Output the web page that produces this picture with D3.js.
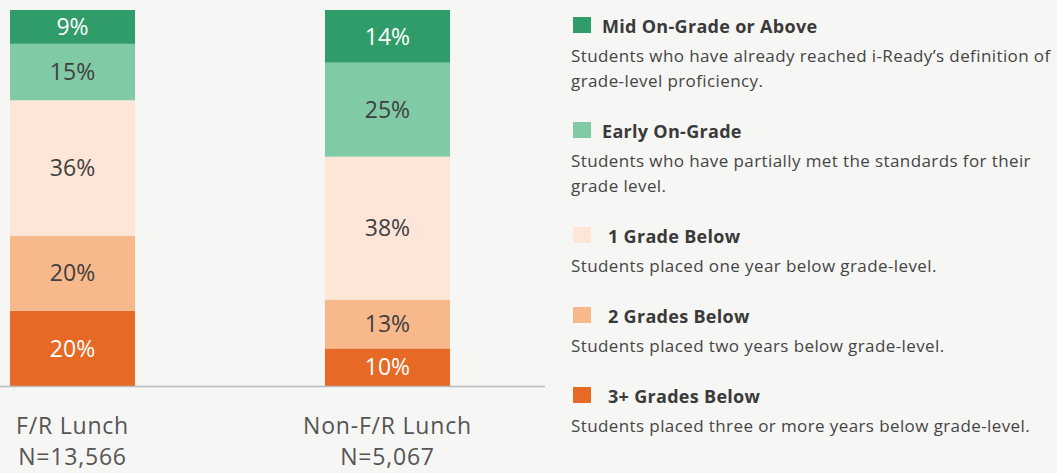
<!DOCTYPE html>
<html>
<head>
<meta charset="utf-8">
<script src="https://cdn.jsdelivr.net/npm/d3@7"></script>
<style>
  html, body { margin: 0; padding: 0; background: #f6f6f4; }
  svg { display: block; font-family: "Open Sans", sans-serif; }
</style>
</head>
<body>
<div id="chart"></div>
<script>
// categories (bars) and their N labels
const groups = ["F/R Lunch", "Non-F/R Lunch"];
const groupN = ["N=13,566", "N=5,067"];

// levels, bottom of the stack first
const levels = ["3+ Grades Below", "2 Grades Below", "1 Grade Below", "Early On-Grade", "Mid On-Grade or Above"];
const levelColors = ["#e66a26", "#f7b98b", "#fde6d8", "#80cba5", "#2f9c69"];
const labelColors = ["#ffffff", "#404040", "#404040", "#404040", "#ffffff"];

// percentages per group, same order as levels
const frLunch = [20, 20, 36, 15, 9];
const nonFrLunch = [10, 13, 38, 25, 14];

// legend texts, top entry first
const legendTitles = ["Mid On-Grade or Above", "Early On-Grade", "1 Grade Below", "2 Grades Below", "3+ Grades Below"];
const legendDescs = [
  ["Students who have already reached i-Ready\u2019s definition of", "grade-level proficiency."],
  ["Students who have partially met the standards for their", "grade level."],
  ["Students placed one year below grade-level."],
  ["Students placed two years below grade-level."],
  ["Students placed three or more years below grade-level."]
];

const width = 1057, height = 473;

const svg = d3.select("#chart")
  .append("svg")
  .attr("width", width)
  .attr("height", height);

// build table for the stack
const table = groups.map((g, i) => {
  const vals = i === 0 ? frLunch : nonFrLunch;
  const row = { group: g };
  levels.forEach((l, j) => row[l] = vals[j]);
  return row;
});

const stack = d3.stack().keys(levels);
const series = stack(table);

const x = d3.scaleBand()
  .domain(groups)
  .range([10, 450])
  .paddingInner(0.603)
  .paddingOuter(0);

const y = d3.scaleLinear()
  .domain([0, 100])
  .range([386, 10]);

const color = d3.scaleOrdinal().domain(levels).range(levelColors);
const txtColor = d3.scaleOrdinal().domain(levels).range(labelColors);

// bars
const layer = svg.append("g")
  .selectAll("g")
  .data(series)
  .join("g")
  .attr("fill", d => color(d.key));

layer.selectAll("rect")
  .data(d => d.map(s => Object.assign(s, { key: d.key })))
  .join("rect")
  .attr("x", d => x(d.data.group))
  .attr("width", x.bandwidth())
  .attr("y", d => y(d[1]))
  .attr("height", d => y(d[0]) - y(d[1]));

// value labels
layer.selectAll("text")
  .data(d => d)
  .join("text")
  .attr("x", d => x(d.data.group) + x.bandwidth() / 2)
  .attr("y", d => (y(d[0]) + y(d[1])) / 2)
  .attr("dy", "0.36em")
  .attr("text-anchor", "middle")
  .attr("fill", d => txtColor(d.key))
  .style("font-size", "23px")
  .text(d => (d[1] - d[0]) + "%");

// baseline
svg.append("line")
  .attr("x1", 0).attr("x2", 545)
  .attr("y1", y(0) + 0.5).attr("y2", y(0) + 0.5)
  .attr("stroke", "#bdbdbd")
  .attr("stroke-width", 1.5);

// category labels
const cat = svg.append("g")
  .selectAll("text")
  .data(groups)
  .join("text")
  .attr("x", d => x(d) + x.bandwidth() / 2)
  .attr("text-anchor", "middle")
  .attr("fill", "#555")
  .style("font-size", "23px")
  .style("letter-spacing", "0.8px");

cat.append("tspan")
  .attr("x", d => x(d) + x.bandwidth() / 2)
  .attr("y", 434)
  .text(d => d);

cat.append("tspan")
  .attr("x", d => x(d) + x.bandwidth() / 2)
  .attr("y", 465)
  .text((d, i) => groupN[i]);

// legend
const legend = svg.append("g");
let ly = 33;
legendTitles.forEach((t, i) => {
  const g = legend.append("g");
  const key = levels[levels.length - 1 - i];
  g.append("rect")
    .attr("x", 573).attr("y", ly - 16)
    .attr("width", 18).attr("height", 16)
    .attr("fill", color(key));
  g.append("text")
    .attr("x", i < 2 ? 602 : 608)
    .attr("y", ly)
    .attr("fill", "#3a3a3a")
    .style("font-size", "18px")
    .style("letter-spacing", "0.3px")
    .style("font-weight", "bold")
    .text(t);
  legendDescs[i].forEach((line, k) => {
    g.append("text")
      .attr("x", 571)
      .attr("y", ly + 29 + k * 25)
      .attr("fill", "#454545")
      .style("font-size", "17px")
      .style("letter-spacing", "0.4px")
      .text(line);
  });
  ly += 80 + 25 * (legendDescs[i].length - 1);
});
</script>
</body>
</html>
